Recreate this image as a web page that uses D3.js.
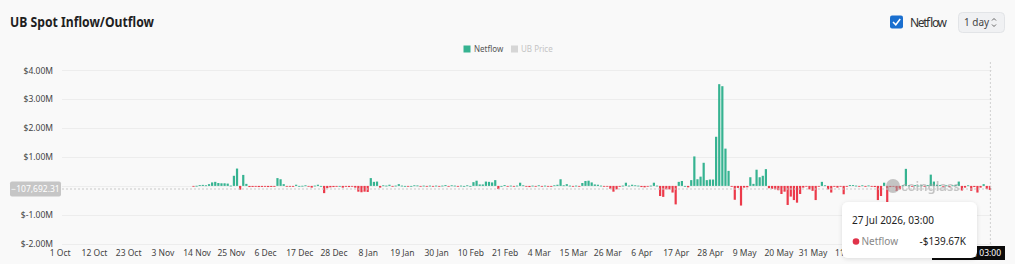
<!DOCTYPE html>
<meta charset="utf-8" />
<script src="https://d3js.org/d3.v7.min.js"></script>
<style>
  body { margin: 0; background: #f9f9f9; font-family: "Noto Sans", "Open Sans", sans-serif; }
  svg { display: block; }
</style>
<body>
  <div id="my_dataviz"></div>
</body>
<script>
  // daily netflow, thousands of USD (first bar is 13 Nov 2025)
  var novValues = [-20, 5, 30, 35, 20, 60, 120, 140, 100, 90, 90, 80, 10, 350, 600, -130, 380, 70];
  var decValues = [-40, -35, -30, -40, -35, -30, -40, -35, -30, 270, 230, 60, -10, -20, -30, 40, 0, 5, 20, -20,
    -60, 10, 40, 0, -250, -80, -50, -40, -30, 0, -60];
  var janValues = [-30, -40, -20, -60, -200, -220, -200, -210, 270, 140, 150, -60, 20, 10, 40, -20, 10, 60, 10, 0,
    -10, 0, 20, 15, -10, 10, -15, 10, -20, 10, -15];
  var febValues = [10, 30, -10, 20, 10, -15, 10, 0, 20, 0, 130, 180, 50, 50, 150, 140, 120, 200, -110, 0,
    30, -10, 10, -20, 10, 110, 20, -20];
  var marValues = [-40, 10, -10, 20, -15, 10, -20, -30, 20, 40, 230, 20, 60, 10, -10, 10, -20, 100, 170, 180,
    120, 50, 40, 10, -20, -20, -100, -200, -120, -30, 10];
  var aprValues = [110, 10, 40, 20, 10, -40, -50, -20, 10, 110, 10, -350, -380, -120, -120, -230, -640, 140, 170, 0,
    -50, 200, 1020, 230, 320, 800, 200, 220, 220, 1700];
  var mayValues = [3520, 3450, 1290, 520, -30, -480, -70, -680, -60, -50, 300, 70, 560, 300, 350, 580, -80, -100, -120, -150,
    -280, -200, -660, -370, -490, -580, -280, -60, -20, -120, -170];
  var junValues = [-490, -20, 140, 20, -120, -230, -30, -60, -20, -290, -30, 30, 30, 10, -20, 20, -30, 15, -30, -40,
    -490, -350, 110, -640, -40, -30, -170, -120, 20, 590];
  var julValues = [20, -20, 30, 10, 20, -10, 30, 390, 150, 40, 30, -20, 20, -30, 20, 30, 150, -160, -60, 20,
    -170, -40, -230, -60, 60, -110, -140];

  var yTicks = [-2000, -1000, 0, 1000, 2000, 3000, 4000];
  // tick labels still visible (later ones sit under the tooltip)
  var xTickDates = ["2025-10-01", "2025-10-12", "2025-10-23", "2025-11-03", "2025-11-14", "2025-11-25",
    "2025-12-06", "2025-12-17", "2025-12-28", "2026-01-08", "2026-01-19", "2026-01-30", "2026-02-10",
    "2026-02-21", "2026-03-04", "2026-03-15", "2026-03-26", "2026-04-06", "2026-04-17", "2026-04-28",
    "2026-05-09", "2026-05-20", "2026-05-31", "2026-06-11"];

  var firstDay = Date.UTC(2025, 10, 13);
  var values = [].concat(novValues, decValues, janValues, febValues, marValues, aprValues, mayValues, junValues, julValues);
  var data = values.map(function (v, i) {
    return { date: d3.utcDay.offset(new Date(firstDay), i), value: v };
  });
  var hovered = data[data.length - 1];
  var parseDay = d3.utcParse("%Y-%m-%d");

  var W = 1015, H = 264;
  var svg = d3.select("#my_dataviz").append("svg").attr("width", W).attr("height", H);

  var start = new Date(Date.UTC(2025, 9, 1));
  var x = d3.scaleUtc().domain([start, d3.utcDay.offset(start, 300)]).range([59.7, 59.7 + 300 * 3.111]);
  var y = d3.scaleLinear().domain([-2000, 4000]).range([243.7, 70.3]);

  // title
  svg.append("text").attr("x", 10).attr("y", 27).text("UB Spot Inflow/Outflow")
    .attr("textLength", 144).attr("lengthAdjust", "spacingAndGlyphs")
    .style("font-size", "14px").style("font-weight", "700").attr("fill", "#1f1f1f");

  // checkbox + select
  svg.append("rect").attr("x", 890).attr("y", 15.5).attr("width", 13).attr("height", 13).attr("rx", 2).attr("fill", "#1a6fcf");
  svg.append("path").attr("d", "M893,22 L895.8,24.8 L900.2,19").attr("stroke", "#fff").attr("stroke-width", 1.5).attr("fill", "none");
  svg.append("text").attr("x", 910).attr("y", 26.5).text("Netflow").attr("textLength", 37)
    .style("font-size", "12px").attr("fill", "#333");
  svg.append("rect").attr("x", 958.5).attr("y", 12.5).attr("width", 46).attr("height", 20).attr("rx", 4)
    .attr("fill", "#f0f1f3").attr("stroke", "#e2e4e7");
  svg.append("text").attr("x", 964).attr("y", 26).text("1 day").style("font-size", "10px").attr("fill", "#444");
  svg.append("path").attr("d", "M992,20.5 L994,18.5 L996,20.5 M992,24.5 L994,26.5 L996,24.5")
    .attr("stroke", "#555").attr("stroke-width", 0.9).attr("fill", "none");

  // legend
  var legend = svg.append("g").style("font-size", "8px");
  legend.append("rect").attr("x", 463.5).attr("y", 45.5).attr("width", 7).attr("height", 7).attr("fill", "#36b391");
  legend.append("text").attr("x", 474).attr("y", 52).text("Netflow").attr("fill", "#555");
  legend.append("rect").attr("x", 511).attr("y", 45.5).attr("width", 7).attr("height", 7).attr("fill", "#d6d6d6");
  legend.append("text").attr("x", 521).attr("y", 52).text("UB Price").attr("fill", "#c4c4c4");

  // grid
  svg.append("g").selectAll("line").data(yTicks).enter().append("line")
    .attr("x1", 62).attr("x2", 992)
    .attr("y1", function (d) { return Math.round(y(d)) + 0.5; })
    .attr("y2", function (d) { return Math.round(y(d)) + 0.5; })
    .attr("stroke", "#ededed");

  // y axis (the zero label is hidden behind the crosshair box)
  var yAxis = svg.append("g").attr("transform", "translate(53,0)")
    .call(d3.axisLeft(y).tickValues(yTicks.filter(function (d) { return d !== 0; })).tickSize(0).tickPadding(0)
      .tickFormat(function (d) { return "$" + (d / 1000).toFixed(2) + "M"; }));
  yAxis.select(".domain").remove();
  yAxis.selectAll("text").style("font-size", "8.5px").style("font-family", "Noto Sans").attr("fill", "#444");

  // x axis
  var xAxis = svg.append("g").attr("transform", "translate(0,248.5)")
    .call(d3.axisBottom(x).tickValues(xTickDates.map(parseDay)).tickSize(0).tickPadding(1)
      .tickFormat(d3.utcFormat("%-d %b")));
  xAxis.select(".domain").remove();
  xAxis.selectAll("text").style("font-size", "8.5px").style("font-family", "Noto Sans").attr("fill", "#444");

  // bars
  var bw = 2.2;
  svg.append("g").selectAll("rect").data(data).enter().append("rect")
    .attr("x", function (d) { return x(d.date) - bw / 2; })
    .attr("y", function (d) { return y(Math.max(0, d.value)); })
    .attr("width", bw)
    .attr("height", function (d) { return Math.max(0.8, Math.abs(y(d.value) - y(0))); })
    .attr("fill", function (d) { return d.value >= 0 ? "#36b391" : "#ec3a4a"; });

  // watermark
  var wm = svg.append("g").attr("opacity", 0.55);
  wm.append("circle").attr("cx", 893).attr("cy", 186).attr("r", 7).attr("fill", "#9a9a9a");
  wm.append("text").attr("x", 901).attr("y", 191).text("coinglass")
    .style("font-size", "13px").style("font-weight", "600").attr("fill", "#9a9a9a");

  // crosshair
  var cx = x(hovered.date) + 0.5;
  var cyValue = -107.69231;
  svg.append("line").attr("x1", 62).attr("x2", 992).attr("y1", y(cyValue)).attr("y2", y(cyValue))
    .attr("stroke", "#c9c9c9").attr("stroke-dasharray", "2,2");
  svg.append("line").attr("x1", cx).attr("x2", cx).attr("y1", 62).attr("y2", 246)
    .attr("stroke", "#d0d0d0").attr("stroke-dasharray", "2,2");
  svg.append("rect").attr("x", 10).attr("y", y(cyValue) - 7.5).attr("width", 51).attr("height", 15).attr("rx", 2)
    .attr("fill", "#c6c6c6");
  svg.append("text").attr("x", 35.5).attr("y", y(cyValue) + 3).attr("text-anchor", "middle")
    .text(d3.format(",.2f")(cyValue * 1000)).style("font-size", "8.5px").attr("fill", "#fff");

  var fullDate = d3.utcFormat("%-d %b %Y, 03:00")(hovered.date);
  svg.append("rect").attr("x", 932).attr("y", 246).attr("width", 73).attr("height", 14).attr("fill", "#0b0b0b");
  svg.append("text").attr("x", 1001).attr("y", 256).attr("text-anchor", "end").text(fullDate)
    .style("font-size", "8.5px").attr("fill", "#fff");

  // tooltip
  var defs = svg.append("defs");
  var f = defs.append("filter").attr("id", "shadow").attr("x", "-20%").attr("y", "-20%").attr("width", "140%").attr("height", "140%");
  f.append("feDropShadow").attr("dx", 0).attr("dy", 1).attr("stdDeviation", 2).attr("flood-color", "#000").attr("flood-opacity", 0.12);
  var tip = svg.append("g");
  tip.append("rect").attr("x", 842).attr("y", 202).attr("width", 135).attr("height", 56).attr("rx", 6)
    .attr("fill", "#fff").attr("filter", "url(#shadow)");
  tip.append("text").attr("x", 852).attr("y", 224).text(fullDate).style("font-size", "10px").attr("fill", "#222");
  tip.append("circle").attr("cx", 856).attr("cy", 241.5).attr("r", 3.3).attr("fill", "#e0334a");
  tip.append("text").attr("x", 861.5).attr("y", 245).text("Netflow").style("font-size", "10px").attr("fill", "#888");
  tip.append("text").attr("x", 966).attr("y", 245).attr("text-anchor", "end")
    .text("-$" + Math.abs(hovered.value * 0.99764).toFixed(2) + "K").style("font-size", "10px").attr("fill", "#222");
</script>
